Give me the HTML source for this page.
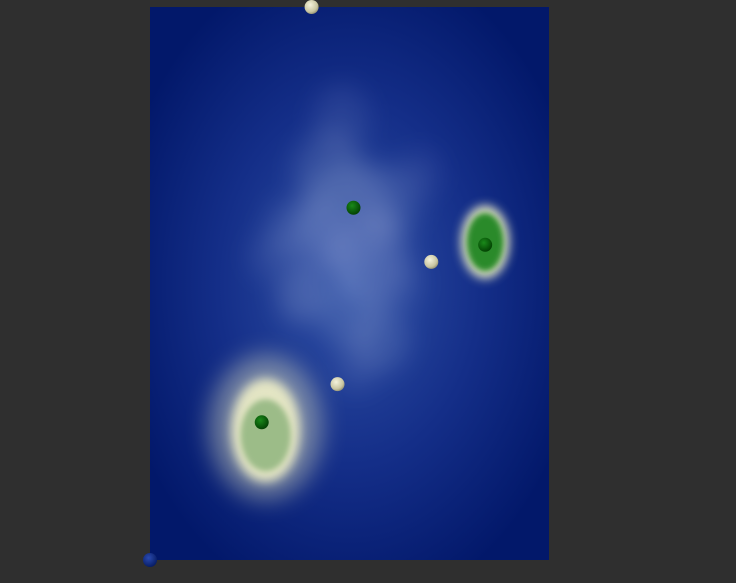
<!DOCTYPE html>
<html><head><meta charset="utf-8"><style>
html,body{margin:0;padding:0;background:#2f2f2f;width:736px;height:583px;overflow:hidden}
svg{display:block}
</style></head><body>
<svg id="chart" width="736" height="583" xmlns="http://www.w3.org/2000/svg">
<defs>
<radialGradient id="bg" cx="0.5" cy="0.5" r="0.6">
<stop offset="0" stop-color="#2f50a6"/><stop offset="0.55" stop-color="#142e88"/><stop offset="1" stop-color="#02186a"/>
</radialGradient>
<filter id="blur" x="-50%" y="-50%" width="200%" height="200%"><feGaussianBlur stdDeviation="12"/></filter>
<filter id="blur2" x="-50%" y="-50%" width="200%" height="200%"><feGaussianBlur stdDeviation="5"/></filter>
<filter id="blur4" x="-50%" y="-50%" width="200%" height="200%"><feGaussianBlur stdDeviation="12"/></filter>
<filter id="blur3" x="-50%" y="-50%" width="200%" height="200%"><feGaussianBlur stdDeviation="3"/></filter>
<radialGradient id="sphW" cx="0.4" cy="0.35" r="0.7"><stop offset="0" stop-color="#f4f2dc"/><stop offset="0.7" stop-color="#c9c6a2"/><stop offset="1" stop-color="#8d8a6c"/></radialGradient>
<radialGradient id="sphG" cx="0.4" cy="0.35" r="0.7"><stop offset="0" stop-color="#1a8a1a"/><stop offset="1" stop-color="#013d01"/></radialGradient>
<radialGradient id="sphB" cx="0.4" cy="0.35" r="0.7"><stop offset="0" stop-color="#2a4ab0"/><stop offset="1" stop-color="#051a60"/></radialGradient>
<clipPath id="plotclip"><rect x="150" y="7" width="399" height="553"/></clipPath>
</defs>
<rect x="150" y="7" width="399" height="553" fill="url(#bg)"/>
<g id="haze" clip-path="url(#plotclip)" filter="url(#blur)"></g>
<g id="islands" clip-path="url(#plotclip)"></g>
<g id="points"></g>
</svg>
<script>
// data domain: x 0..1, y 0..1 (top to bottom)
const hazeX=[0.50,0.55,0.45,0.60,0.38,0.50,0.58,0.42,0.48,0.62,0.35,0.52,0.30,0.68];
const hazeY=[0.38,0.45,0.30,0.35,0.52,0.55,0.60,0.42,0.20,0.50,0.40,0.65,0.45,0.30];
const hazeR=[0.12,0.10,0.09,0.08,0.06,0.08,0.07,0.08,0.07,0.06,0.06,0.05,0.05,0.05];
const hazeA=[0.16,0.15,0.14,0.12,0.2,0.14,0.14,0.13,0.1,0.1,0.12,0.1,0.1,0.08];
const islandX=[0.84,0.29];
const islandY=[0.425,0.76];
const islandRX=[0.055,0.14];
const islandRY=[0.06,0.13];
const pointX=[0.405,0.51,0.84,0.705,0.47,0.28,0.0];
const pointY=[0.0,0.363,0.43,0.461,0.682,0.751,1.0];
const pointKind=['w','g','g','w','w','g','b'];
const X0=150,X1=549,Y0=7,Y1=560;
const sx=v=>X0+v*(X1-X0), sy=v=>Y0+v*(Y1-Y0), sw=v=>v*(X1-X0), sh=v=>v*(Y1-Y0);
const NS='http://www.w3.org/2000/svg';
const haze=document.getElementById('haze');
for(let i=0;i<hazeX.length;i++){
 const e=document.createElementNS(NS,'ellipse');
 
 
 e.setAttribute('cx',sx(hazeX[i]));e.setAttribute('cy',sy(hazeY[i]));
 e.setAttribute('rx',sw(hazeR[i]));e.setAttribute('ry',sw(hazeR[i])*1.2);
 e.setAttribute('fill','#c8d2ec');e.setAttribute('opacity',hazeA[i]);
 haze.appendChild(e);
}
const isl=document.getElementById('islands');
for(let i=0;i<islandX.length;i++){
 const cx=sx(islandX[i]),cy=sy(islandY[i]),rx=sw(islandRX[i]),ry=sh(islandRY[i]);
 if(i===1){
  const halo=document.createElementNS(NS,'ellipse');
  
  
  halo.setAttribute('cx',cx);halo.setAttribute('cy',cy);halo.setAttribute('rx',rx);halo.setAttribute('ry',ry);
  halo.setAttribute('fill','#e8e8c0');halo.setAttribute('opacity',0.45);halo.setAttribute('filter','url(#blur4)');
  isl.appendChild(halo);
 }
 const glow=document.createElementNS(NS,'ellipse');
 
 
 glow.setAttribute('cx',cx);glow.setAttribute('cy',cy+(i?3:0));glow.setAttribute('rx',rx*(i?0.62:1.1));glow.setAttribute('ry',ry*(i?0.72:1.1));
 glow.setAttribute('fill','#f0f0c8');glow.setAttribute('filter','url(#blur2)');glow.setAttribute('opacity',i?0.9:0.95);
 isl.appendChild(glow);
 const core=document.createElementNS(NS,'ellipse');
 
 
 core.setAttribute('cx',cx);core.setAttribute('cy',cy+(i?8:0));core.setAttribute('rx',rx*(i?0.45:0.85));core.setAttribute('ry',ry*(i?0.5:0.88));
 core.setAttribute('fill',i?'#9cbc88':'#2a8a2a');core.setAttribute('filter','url(#blur3)');
 isl.appendChild(core);
}
const pts=document.getElementById('points');
for(let i=0;i<pointX.length;i++){
 const c=document.createElementNS(NS,'circle');
 
 
 c.setAttribute('cx',sx(pointX[i]));c.setAttribute('cy',sy(pointY[i]));c.setAttribute('r',7);
 c.setAttribute('fill',pointKind[i]==='w'?'url(#sphW)':pointKind[i]==='g'?'url(#sphG)':'url(#sphB)');
 pts.appendChild(c);
}
</script>
</body></html>
